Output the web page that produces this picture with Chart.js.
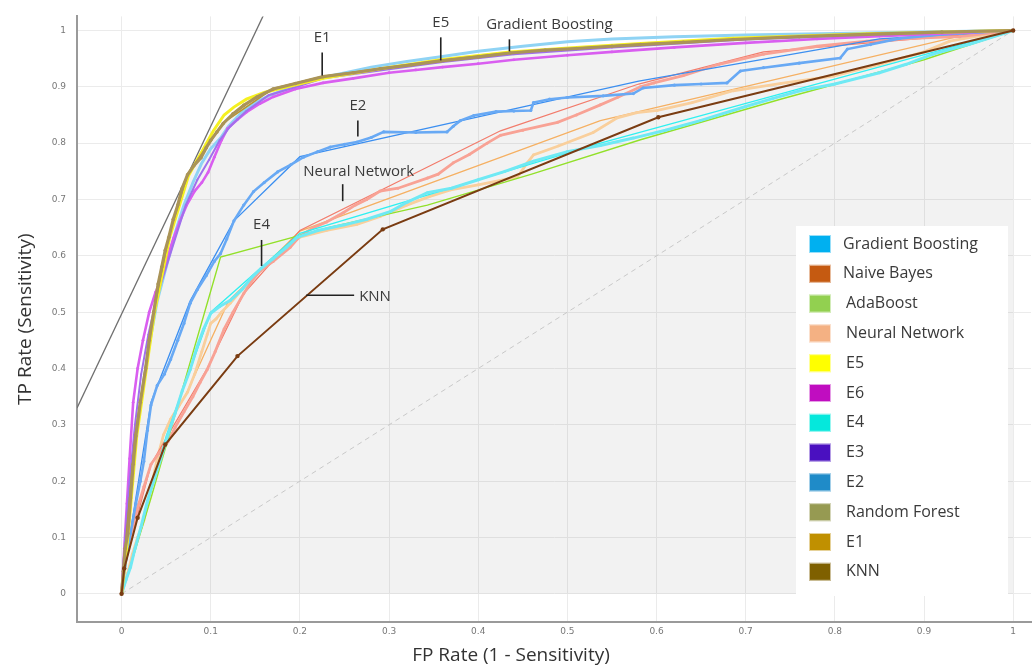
<!DOCTYPE html>
<html>
<head>
<meta charset="utf-8">
<title>ROC curves</title>
<script src="https://cdn.jsdelivr.net/npm/chart.js@4.4.1/dist/chart.umd.min.js"></script>
<style>
  html, body { margin: 0; padding: 0; background: #fff; }
  #wrap { width: 1035px; height: 668px; }
</style>
</head>
<body>
<div id="wrap"><canvas id="rocChart" width="1035" height="668"></canvas></div>
<script>
// [FP rate, TP rate] pairs
const knn = [[0,0],[0.003,0.045],[0.018,0.135],[0.049,0.265],[0.130,0.422],[0.293,0.647],[0.602,0.846],[1,1]];

const randomForest = [[0,0],[0.002,0.04],[0.004,0.08],[0.007,0.107],[0.010,0.17],[0.013,0.23],[0.016,0.28],[0.021,0.34],[0.027,0.40],[0.031,0.45],[0.036,0.50],[0.041,0.55],[0.045,0.58],[0.049,0.61],[0.053,0.633],[0.058,0.665],[0.063,0.69],[0.068,0.72],[0.074,0.744],[0.081,0.76],[0.089,0.774],[0.095,0.792],[0.10,0.805],[0.107,0.82],[0.114,0.835],[0.125,0.852],[0.137,0.867],[0.152,0.882],[0.170,0.896],[0.195,0.906],[0.226,0.918],[0.26,0.925],[0.29,0.932],[0.325,0.939],[0.358,0.946],[0.40,0.953],[0.436,0.960],[0.475,0.965],[0.51,0.968],[0.55,0.972],[0.582,0.975],[0.63,0.979],[0.686,0.984],[0.76,0.989],[0.836,0.993],[0.92,0.997],[1,1]];

const e1 = [[0,0],[0.005,0.1],[0.015,0.28],[0.036,0.5],[0.053,0.635],[0.074,0.745],[0.114,0.836],[0.170,0.897],[0.226,0.919],[0.358,0.947],[0.436,0.961],[0.582,0.976],[0.836,0.994],[1,1]];

const e5 = [[0,0],[0.007,0.1],[0.017,0.28],[0.037,0.5],[0.054,0.633],[0.075,0.742],[0.09,0.785],[0.103,0.822],[0.115,0.85],[0.126,0.864],[0.14,0.878],[0.16,0.89],[0.18,0.898],[0.226,0.915],[0.29,0.932],[0.358,0.948],[0.436,0.962],[0.51,0.97],[0.582,0.977],[0.686,0.986],[0.836,0.994],[1,1]];

const e3 = [[0,0],[0.004,0.1],[0.009,0.2],[0.015,0.3],[0.022,0.39],[0.03,0.46],[0.04,0.53],[0.05,0.58],[0.06,0.63],[0.072,0.69],[0.085,0.735],[0.098,0.77],[0.11,0.805],[0.122,0.83],[0.14,0.857],[0.165,0.885],[0.2,0.902],[0.226,0.915],[0.30,0.931],[0.36,0.944],[0.44,0.958],[0.55,0.97],[0.7,0.984],[0.85,0.993],[1,1]];

const e6 = [[0,0],[0.003,0.08],[0.006,0.16],[0.009,0.24],[0.013,0.34],[0.018,0.40],[0.024,0.45],[0.031,0.5],[0.038,0.535],[0.045,0.56],[0.052,0.6],[0.058,0.63],[0.065,0.66],[0.073,0.69],[0.082,0.715],[0.090,0.73],[0.097,0.748],[0.104,0.775],[0.112,0.805],[0.119,0.826],[0.13,0.842],[0.14,0.855],[0.155,0.87],[0.17,0.882],[0.195,0.896],[0.226,0.907],[0.26,0.915],[0.30,0.925],[0.33,0.93],[0.36,0.935],[0.40,0.941],[0.44,0.948],[0.50,0.956],[0.55,0.962],[0.62,0.97],[0.7,0.978],[0.78,0.985],[0.85,0.99],[0.93,0.995],[1,1]];

const gradientBoosting = [[0,0],[0.005,0.1],[0.01,0.2],[0.018,0.3],[0.025,0.38],[0.032,0.45],[0.04,0.52],[0.05,0.58],[0.06,0.64],[0.07,0.69],[0.08,0.73],[0.09,0.765],[0.10,0.79],[0.111,0.809],[0.12,0.83],[0.135,0.855],[0.15,0.872],[0.165,0.884],[0.18,0.893],[0.2,0.905],[0.23,0.918],[0.28,0.935],[0.32,0.945],[0.36,0.954],[0.40,0.963],[0.45,0.972],[0.50,0.98],[0.55,0.985],[0.62,0.989],[0.7,0.992],[0.85,0.996],[1,1]];

const e4 = [[0,0],[0.005,0.025],[0.01,0.047],[0.015,0.08],[0.022,0.12],[0.029,0.165],[0.036,0.2],[0.044,0.24],[0.052,0.282],[0.060,0.32],[0.068,0.36],[0.077,0.398],[0.085,0.44],[0.092,0.47],[0.1,0.498],[0.11,0.51],[0.122,0.521],[0.135,0.54],[0.145,0.56],[0.156,0.577],[0.17,0.595],[0.185,0.615],[0.197,0.633],[0.22,0.645],[0.25,0.655],[0.275,0.665],[0.302,0.679],[0.32,0.695],[0.343,0.712],[0.37,0.72],[0.40,0.735],[0.43,0.75],[0.462,0.768],[0.50,0.785],[0.537,0.796],[0.574,0.809],[0.61,0.823],[0.649,0.84],[0.70,0.865],[0.73,0.879],[0.761,0.893],[0.80,0.905],[0.85,0.925],[0.88,0.94],[0.91,0.958],[0.95,0.975],[1,1]];
const e4Hull = [[0,0],[0.01,0.05],[0.05,0.28],[0.1,0.5],[0.2,0.64],[0.537,0.80],[1,1]];

const adaBoost = [[0,0],[0.012,0.06],[0.033,0.17],[0.111,0.598],[0.234,0.651],[0.343,0.69],[0.46,0.745],[0.582,0.806],[0.739,0.878],[0.9,0.948],[1,1]];

const e2 = [[0,0],[0.004,0.05],[0.010,0.107],[0.016,0.16],[0.021,0.20],[0.025,0.235],[0.029,0.29],[0.033,0.335],[0.040,0.37],[0.048,0.39],[0.055,0.416],[0.063,0.45],[0.070,0.48],[0.077,0.516],[0.085,0.54],[0.095,0.565],[0.104,0.59],[0.111,0.604],[0.118,0.63],[0.126,0.662],[0.137,0.69],[0.148,0.714],[0.160,0.73],[0.175,0.749],[0.19,0.762],[0.204,0.775],[0.22,0.785],[0.234,0.793],[0.25,0.798],[0.264,0.802],[0.28,0.81],[0.294,0.82],[0.33,0.819],[0.365,0.820],[0.372,0.83],[0.38,0.84],[0.395,0.849],[0.42,0.856],[0.44,0.857],[0.459,0.858],[0.462,0.872],[0.48,0.878],[0.50,0.881],[0.54,0.884],[0.574,0.888],[0.585,0.898],[0.62,0.903],[0.65,0.905],[0.679,0.907],[0.694,0.928],[0.72,0.934],[0.76,0.942],[0.806,0.951],[0.814,0.967],[0.84,0.975],[0.873,0.986],[0.92,0.993],[1,1]];
const e2Hull = [[0,0],[0.01,0.11],[0.033,0.34],[0.077,0.52],[0.126,0.662],[0.2,0.776],[0.58,0.91],[0.85,0.985],[1,1]];

const neuralNetwork = [[0,0],[0.003,0.047],[0.010,0.10],[0.018,0.153],[0.025,0.19],[0.033,0.23],[0.042,0.25],[0.052,0.27],[0.060,0.295],[0.070,0.323],[0.080,0.35],[0.088,0.375],[0.096,0.398],[0.105,0.43],[0.115,0.47],[0.125,0.50],[0.137,0.533],[0.146,0.555],[0.156,0.574],[0.17,0.59],[0.189,0.615],[0.2,0.635],[0.215,0.65],[0.23,0.66],[0.249,0.677],[0.262,0.69],[0.275,0.70],[0.290,0.715],[0.31,0.72],[0.343,0.738],[0.355,0.745],[0.372,0.765],[0.39,0.78],[0.41,0.80],[0.425,0.814],[0.45,0.823],[0.489,0.837],[0.51,0.85],[0.537,0.868],[0.556,0.881],[0.582,0.90],[0.597,0.907],[0.63,0.92],[0.67,0.94],[0.72,0.958],[0.78,0.972],[0.836,0.981],[0.9,0.987],[0.94,0.989],[1,1]];
const neuralNetworkHull = [[0,0],[0.003,0.05],[0.033,0.23],[0.096,0.40],[0.137,0.533],[0.2,0.645],[0.425,0.822],[0.58,0.905],[0.72,0.962],[1,1]];

const naiveBayes = [[0,0],[0.007,0.037],[0.012,0.07],[0.018,0.10],[0.025,0.13],[0.032,0.18],[0.040,0.24],[0.047,0.282],[0.055,0.31],[0.065,0.335],[0.074,0.358],[0.082,0.39],[0.090,0.43],[0.096,0.46],[0.1,0.48],[0.106,0.488],[0.112,0.50],[0.122,0.516],[0.135,0.54],[0.15,0.565],[0.17,0.595],[0.2,0.633],[0.23,0.645],[0.264,0.656],[0.29,0.67],[0.32,0.69],[0.345,0.705],[0.369,0.717],[0.40,0.726],[0.444,0.74],[0.455,0.765],[0.462,0.779],[0.49,0.795],[0.529,0.819],[0.556,0.845],[0.578,0.854],[0.601,0.858],[0.64,0.872],[0.686,0.893],[0.74,0.906],[0.798,0.919],[0.85,0.94],[0.9,0.962],[0.929,0.981],[0.96,0.99],[1,1]];
const naiveBayesHull = [[0,0],[0.007,0.04],[0.025,0.13],[0.047,0.282],[0.074,0.36],[0.12,0.52],[0.2,0.644],[0.537,0.84],[0.94,0.99],[1,1]];

const chance = [[0,0],[1,1]];
const isoLine = [[-0.05,0.33],[0.16,1.03]];

const xTicks = [0,0.1,0.2,0.3,0.4,0.5,0.6,0.7,0.8,0.9,1];
const yTicks = [0,0.1,0.2,0.3,0.4,0.5,0.6,0.7,0.8,0.9,1];

const legendNames = ["Gradient Boosting","Naive Bayes","AdaBoost","Neural Network","E5","E6","E4","E3","E2","Random Forest","E1","KNN"];
const legendColors = ["#00b0f0","#c55a11","#92d050","#f4b183","#ffff00","#c00dc0","#05e8dc","#4a10c0","#1f8bc8","#969a52","#c09000","#7f6000"];

// callouts: text, anchor on curve (data), direction
const callouts = [
  { text: "E1", x: 0.225, y: 0.92, dir: "up" },
  { text: "E5", x: 0.358, y: 0.947, dir: "up" },
  { text: "Gradient Boosting", x: 0.435, y: 0.963, dir: "up", dx: 40, len: 12 },
  { text: "E2", x: 0.265, y: 0.812, dir: "up", len: 16 },
  { text: "Neural Network", x: 0.248, y: 0.697, dir: "up", dx: 16, len: 17, gap: 12 },
  { text: "E4", x: 0.157, y: 0.582, dir: "up", len: 26 },
  { text: "KNN", x: 0.207, y: 0.53, dir: "right" }
];

function pts(arr) { return arr.map(p => ({ x: p[0], y: p[1] })); }

function curve(label, data, color, width, radius, extra) {
  return Object.assign({
    label: label,
    data: pts(data),
    borderColor: color,
    backgroundColor: color,
    borderWidth: width,
    pointRadius: radius,
    pointBorderWidth: 0,
    pointBackgroundColor: color,
    fill: false,
    tension: 0
  }, extra || {});
}

const datasets = [
  curve("KNN", knn, "#7a3c12", 2, 2.2),
  curve("Random Forest", randomForest, "#aa9458", 3.2, 1.8,
        { fill: "origin", backgroundColor: "rgba(0,0,0,0.05)" }),
  curve("E1", e1, "#b8952f", 1.5, 0),
  curve("E5", e5, "#f5f020", 3, 0),
  curve("E3", e3, "#a070ec", 2, 1),
  curve("E6", e6, "#d95ef0", 2.6, 1.4),
  curve("Gradient Boosting", gradientBoosting, "#8fd3f4", 3, 0),
  curve("E4", e4, "#6fe9f4", 3, 1.5),
  curve("E4 hull", e4Hull, "#2ff0f0", 1.3, 0),
  curve("AdaBoost", adaBoost, "#92e02a", 1.4, 0),
  curve("E2", e2, "#68a9f4", 2.6, 1.6),
  curve("E2 hull", e2Hull, "#3c8ff0", 1.3, 0),
  curve("Neural Network", neuralNetwork, "#f8a295", 2.8, 1.5),
  curve("Neural Network hull", neuralNetworkHull, "#f27c6c", 1.3, 0),
  curve("Naive Bayes", naiveBayes, "#f9cf9c", 2.8, 1.4),
  curve("Naive Bayes hull", naiveBayesHull, "#f5b063", 1.3, 0),
  curve("chance", chance, "#c8c8c8", 1, 0, { borderDash: [5, 4] }),
  curve("iso", isoLine, "#6e6e6e", 1.3, 0)
];

const legendBox = {
  id: "legendBox",
  afterDatasetsDraw(chart) {
    const ctx = chart.ctx;
    ctx.save();
    ctx.fillStyle = "#ffffff";
    ctx.fillRect(796, 226, 212, 370);
    ctx.font = "16px 'Open Sans'";
    ctx.textBaseline = "middle";
    legendNames.forEach((name, i) => {
      const cy = 244 + i * 29.8;
      ctx.fillStyle = legendColors[i];
      ctx.fillRect(809, cy - 9, 22, 18);
      ctx.strokeStyle = "rgba(255,255,255,0.6)";
      ctx.lineWidth = 1;
      ctx.strokeRect(809.5, cy - 8.5, 21, 17);
      ctx.fillStyle = "#3a3a3a";
      ctx.fillText(name, i < 2 ? 843 : 846, cy);
    });
    ctx.restore();
  }
};

const calloutPlugin = {
  id: "callouts",
  afterDatasetsDraw(chart) {
    const ctx = chart.ctx;
    const xs = chart.scales.x, ys = chart.scales.y;
    ctx.save();
    ctx.strokeStyle = "#222";
    ctx.lineWidth = 1.6;
    ctx.fillStyle = "#3a3a3a";
    ctx.font = "15px 'Open Sans'";
    callouts.forEach(c => {
      const px = xs.getPixelForValue(c.x);
      const py = ys.getPixelForValue(c.y);
      ctx.beginPath();
      if (c.dir === "up") {
        const len = c.len || 23;
        ctx.moveTo(px, py);
        ctx.lineTo(px, py - len);
        ctx.stroke();
        ctx.textAlign = "center";
        ctx.textBaseline = "middle";
        ctx.fillText(c.text, px + (c.dx || 0), py - len - (c.gap || 15));
      } else {
        ctx.moveTo(px, py);
        ctx.lineTo(px + 48, py);
        ctx.stroke();
        ctx.textAlign = "left";
        ctx.textBaseline = "middle";
        ctx.fillText(c.text, px + 53, py + 1);
      }
    });
    // x axis title, centred under the page rather than the scale
    ctx.font = "19px 'Open Sans'";
    ctx.fillStyle = "#333";
    ctx.textAlign = "center";
    ctx.textBaseline = "middle";
    ctx.fillText("FP Rate (1 - Sensitivity)", 511, 656);
    ctx.restore();
  }
};

new Chart(document.getElementById("rocChart").getContext("2d"), {
  type: "line",
  data: { datasets: datasets },
  plugins: [legendBox, calloutPlugin],
  options: {
    responsive: false,
    animation: false,
    devicePixelRatio: 1,
    layout: { padding: { top: 9, right: 4, left: 0, bottom: 0 } },
    plugins: {
      legend: { display: false },
      tooltip: { enabled: false },
      filler: { drawTime: "beforeDatasetsDraw" }
    },
    scales: {
      x: {
        type: "linear",
        min: -0.05,
        max: 1.02,
        afterFit(scale) { scale.height = 46; },
        afterBuildTicks(scale) { scale.ticks = xTicks.map(v => ({ value: v })); },
        ticks: {
          font: { family: "DejaVu Sans", size: 9 },
          color: "#777",
          padding: 4,
          callback: v => String(Math.round(v * 10) / 10)
        },
        grid: { color: "#ebebeb", lineWidth: 1, tickLength: 0 },
        border: { display: true, color: "#9a9a9a", width: 2 },
        title: { display: false }
      },
      y: {
        type: "linear",
        min: -0.05,
        max: 1.025,
        afterFit(scale) { scale.width = 77; },
        afterBuildTicks(scale) { scale.ticks = yTicks.map(v => ({ value: v })); },
        ticks: {
          font: { family: "DejaVu Sans", size: 9 },
          color: "#777",
          padding: 11,
          callback: v => String(Math.round(v * 10) / 10)
        },
        grid: { color: "#ebebeb", lineWidth: 1, tickLength: 0 },
        border: { display: true, color: "#9a9a9a", width: 2 },
        title: {
          display: true,
          text: "TP Rate (Sensitivity)",
          font: { family: "Open Sans", size: 19 },
          color: "#333",
          padding: { top: 14, bottom: 0 }
        }
      }
    }
  }
});
</script>
</body>
</html>
